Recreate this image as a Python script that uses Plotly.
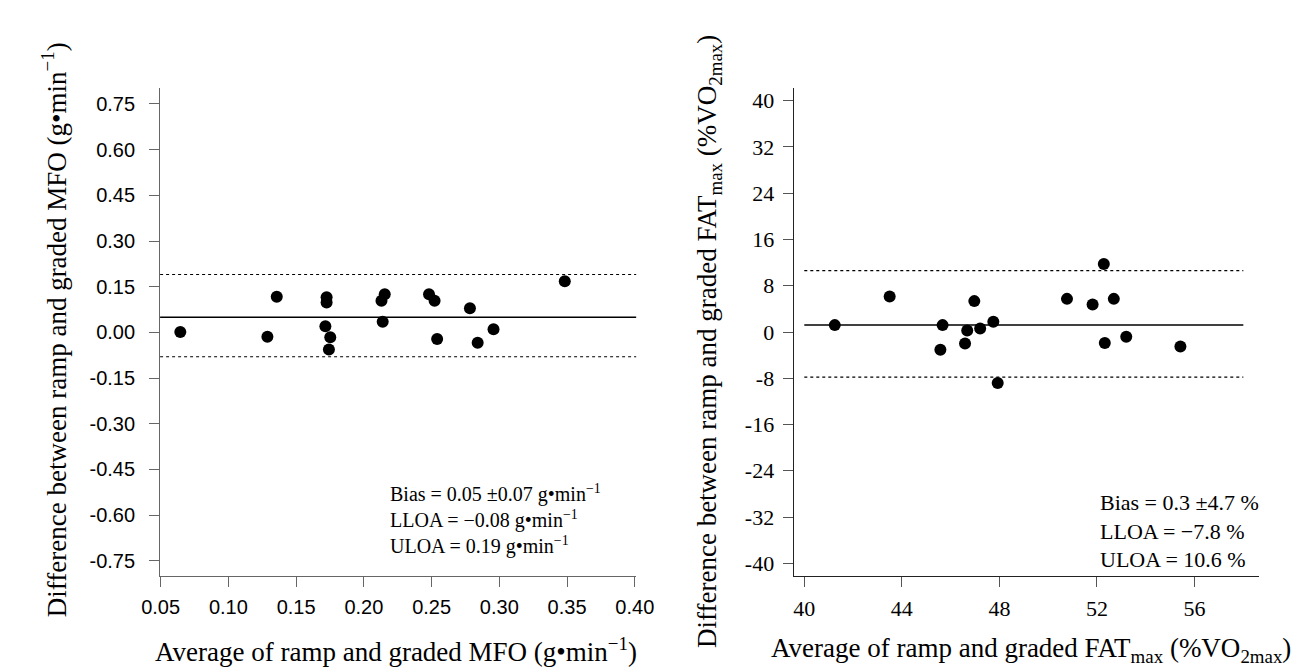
import plotly.graph_objects as go

# ---- data: MFO (left panel) ----
mfo_avg = [0.0645, 0.1288, 0.1357, 0.1725, 0.1725, 0.1716, 0.1752, 0.1742, 0.2130,
           0.2154, 0.2139, 0.2481, 0.2522, 0.2541, 0.2783, 0.2840, 0.2957, 0.3483]
mfo_diff = [0.001, -0.014, 0.117, 0.115, 0.098, 0.020, -0.016, -0.056, 0.104,
            0.125, 0.035, 0.125, 0.104, -0.022, 0.079, -0.034, 0.010, 0.168]
mfo_bias, mfo_lloa, mfo_uloa = 0.05, -0.08, 0.19
mfo_xticks = [0.05, 0.10, 0.15, 0.20, 0.25, 0.30, 0.35, 0.40]
mfo_yticks = [0.75, 0.60, 0.45, 0.30, 0.15, 0.00, -0.15, -0.30, -0.45, -0.60, -0.75]

# ---- data: FATmax (right panel) ----
fat_avg = [41.25, 43.5, 45.67, 45.58, 46.97, 46.68, 46.59, 47.21, 47.75, 47.93,
           50.77, 51.82, 52.28, 52.69, 52.32, 53.2, 55.42]
fat_diff = [1.19, 6.13, 1.19, -3.07, 5.34, 0.26, -1.99, 0.61, 1.76, -8.83,
            5.73, 4.75, 11.78, 5.73, -1.92, -0.83, -2.5]
fat_bias_line, fat_lloa, fat_uloa = 1.2, -7.8, 10.6
fat_line_x = [40, 58]
fat_xticks = [40, 44, 48, 52, 56]
fat_yticks = [40, 32, 24, 16, 8, 0, -8, -16, -24, -32, -40]

W, H = 1301, 670
SERIF = "Liberation Serif"
SANS = "Liberation Sans"

fig = go.Figure()

fig.add_trace(go.Scatter(x=mfo_avg, y=mfo_diff, mode="markers",
                         marker=dict(size=12, color="black"),
                         xaxis="x", yaxis="y", showlegend=False))
fig.add_trace(go.Scatter(x=fat_avg, y=fat_diff, mode="markers",
                         marker=dict(size=12, color="black"),
                         xaxis="x2", yaxis="y2", showlegend=False))

for val, dash, w in [(mfo_bias, "solid", 1.5), (mfo_lloa, "dot", 1.2), (mfo_uloa, "dot", 1.2)]:
    fig.add_shape(type="line", xref="x domain", yref="y", x0=0, x1=1, y0=val, y1=val,
                  line=dict(color="black", width=w, dash=dash))
for val, dash, w in [(fat_bias_line, "solid", 1.5), (fat_lloa, "dot", 1.2), (fat_uloa, "dot", 1.2)]:
    fig.add_trace(go.Scatter(x=fat_line_x, y=[val, val], mode="lines",
                             line=dict(color="black", width=w, dash=dash),
                             xaxis="x2", yaxis="y2", showlegend=False, hoverinfo="skip"))

def fmt2(v):
    return f"{v:.2f}"

axis_common = dict(showgrid=False, zeroline=False, showline=True, ticks="outside",
                   ticklen=10, tickwidth=1, mirror=False)

ydom = [102 / H, 590 / H]
fig.update_layout(
    width=W, height=H,
    margin=dict(l=0, r=0, t=0, b=0, pad=0),
    paper_bgcolor="white", plot_bgcolor="white",
    xaxis=dict(domain=[137 / W, 627 / W], range=[0.0496, 0.401],
               tickvals=mfo_xticks, ticktext=[fmt2(v) for v in mfo_xticks],
               tickfont=dict(family=SANS, size=20, color="black"),
               ticklabelstandoff=3,
               linecolor="#666", tickcolor="#666", anchor="y", **axis_common),
    yaxis=dict(domain=ydom, range=[-0.80, 0.8025],
               tickvals=mfo_yticks, ticktext=[fmt2(v) for v in mfo_yticks],
               tickfont=dict(family=SANS, size=20, color="black"),
               ticklabelstandoff=10,
               linecolor="#666", tickcolor="#666", anchor="x", **axis_common),
    xaxis2=dict(domain=[789 / W, 1268 / W], range=[39.56, 58.64],
                tickvals=fat_xticks, ticktext=[str(v) for v in fat_xticks],
                tickfont=dict(family=SERIF, size=22, color="black"),
                ticklabelstandoff=3,
                linecolor="#222", tickcolor="#555", anchor="y2", **axis_common),
    yaxis2=dict(domain=ydom, range=[-42.2, 42.2],
                tickvals=fat_yticks, ticktext=[str(v) for v in fat_yticks],
                tickfont=dict(family=SERIF, size=22, color="black"),
                ticklabelstandoff=4,
                linecolor="#222", tickcolor="#555", anchor="x2", **axis_common),
)

def px_x(p):
    return p / W

def px_y(p):
    return (H - p) / H

TF = dict(family=SERIF, size=27, color="black")
ann = []
ann.append(dict(text="Difference between ramp and graded MFO (g•min<sup>−1</sup>)",
                x=px_x(28), y=px_y(322), textangle=-90, yanchor="middle", font=TF))
ann.append(dict(text="Average of ramp and graded MFO (g•min<sup>−1</sup>)",
                x=px_x(380), y=px_y(642), yanchor="middle", font=TF))
ann.append(dict(text="Difference between ramp and graded FAT<sub>max</sub> (%VO<sub>2max</sub>)",
                x=px_x(702), y=px_y(334), textangle=-90, yanchor="middle", font=TF))
ann.append(dict(text="Average of ramp and graded FAT<sub>max</sub> (%VO<sub>2max</sub>)",
                x=px_x(1033), y=px_y(642), yanchor="middle", font=TF))

left_lines = ["Bias = 0.05 ±0.07 g•min<sup>−1</sup>",
              "LLOA = −0.08 g•min<sup>−1</sup>",
              "ULOA = 0.19 g•min<sup>−1</sup>"]
ann.append(dict(text="<br>".join(left_lines), x=px_x(372), y=px_y(511), xanchor="left",
                align="left", yanchor="middle", font=dict(family=SERIF, size=20, color="black")))
right_lines = ["Bias = 0.3 ±4.7 %", "LLOA = −7.8 %", "ULOA = 10.6 %"]
ann.append(dict(text="<br>".join(right_lines), x=px_x(1102), y=px_y(523), xanchor="left",
                align="left", yanchor="middle", font=dict(family=SERIF, size=22, color="black")))

for a in ann:
    a.setdefault("xanchor", "center")
    a.update(xref="paper", yref="paper", showarrow=False)
fig.update_layout(annotations=ann)

fig.write_html("out.html")
